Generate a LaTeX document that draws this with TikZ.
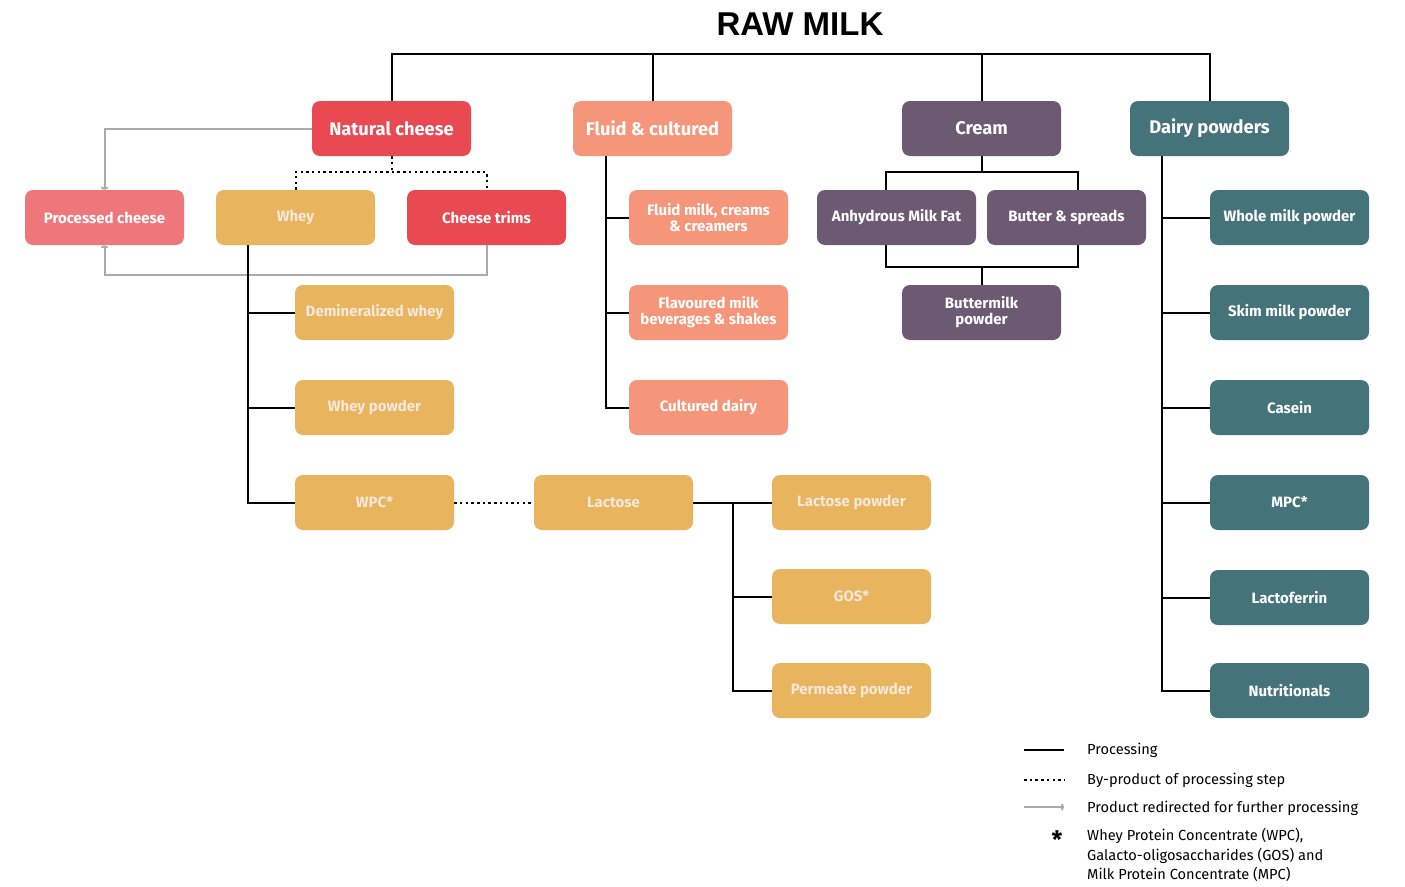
\documentclass[tikz,border=0pt]{standalone}
\usepackage{fontspec}
\setmainfont{Fira Sans}
\newfontfamily\titlefont{Liberation Sans}
\usetikzlibrary{arrows.meta,backgrounds}
\definecolor{natred}{HTML}{E94A52}
\definecolor{procpink}{HTML}{EF767B}
\definecolor{wheyc}{HTML}{E8B45E}
\definecolor{wtext}{HTML}{F3E8D9}
\definecolor{salmon}{HTML}{F5957A}
\definecolor{creamc}{HTML}{6C5A73}
\definecolor{tealc}{HTML}{44737A}
\definecolor{redirc}{HTML}{AAAAAA}
\tikzset{
  box/.style={rounded corners=8pt, minimum width=159pt, minimum height=55pt, align=center, inner sep=0pt, text=white},
  mainbox/.style={box, font=\bfseries\fontsize{18.3}{20}\selectfont},
  subbox/.style={box, font=\bfseries\fontsize{15}{16}\selectfont},
  proc/.style={draw=black, line width=2pt},
  byp/.style={draw=black, line width=2pt, dash pattern=on 2.5pt off 3.2pt},
  redir/.style={draw=redirc, line width=2pt, -{To[length=3pt,width=7pt]}},
  legtext/.style={font=\fontsize{14.6}{19.5}\selectfont, text=black, inner sep=0pt},
}
\begin{document}
\begin{tikzpicture}[x=1pt,y=-1pt]
\useasboundingbox (0,0) rectangle (1405,886);
% title
\node[font=\titlefont\bfseries\fontsize{33}{33}\selectfont, anchor=base, inner sep=0pt] (title) at (800,35) {RAW MILK};
% main boxes
\node[mainbox, fill=natred] (nc) at (391.5,128.5) {Natural cheese};
\node[mainbox, fill=salmon] (fc) at (652.5,128.5) {Fluid \& cultured};
\node[mainbox, fill=creamc] (cr) at (981.5,128.5) {Cream};
\node[mainbox, fill=tealc] (dp) at (1209.5,128.5) {Dairy powders};
% row 2
\node[subbox, fill=procpink] (pc) at (104.5,217.5) {Processed cheese};
\node[subbox, fill=wheyc, text=wtext] (wh) at (295.5,217.5) {Whey};
\node[subbox, fill=natred] (ct) at (486.5,217.5) {Cheese trims};
\node[subbox, fill=salmon] (fm) at (708.5,217.5) {Fluid milk, creams\\\& creamers};
\node[subbox, fill=creamc] (amf) at (896.5,217.5) {Anhydrous Milk Fat};
\node[subbox, fill=creamc] (bs) at (1066.5,217.5) {Butter \& spreads};
\node[subbox, fill=tealc] (wmp) at (1289.5,217.5) {Whole milk powder};
% row 3
\node[subbox, fill=wheyc, text=wtext] (dw) at (374.5,312.5) {Demineralized whey};
\node[subbox, fill=salmon] (fl) at (708.5,312.5) {Flavoured milk\\beverages \& shakes};
\node[subbox, fill=creamc] (bmp) at (981.5,312.5) {Buttermilk\\powder};
\node[subbox, fill=tealc] (smp) at (1289.5,312.5) {Skim milk powder};
% row 4
\node[subbox, fill=wheyc, text=wtext] (wp) at (374.5,407.5) {Whey powder};
\node[subbox, fill=salmon] (cd) at (708.5,407.5) {Cultured dairy};
\node[subbox, fill=tealc] (cas) at (1289.5,407.5) {Casein};
% row 5
\node[subbox, fill=wheyc, text=wtext] (wpc) at (374.5,502.5) {WPC*};
\node[subbox, fill=wheyc, text=wtext] (lac) at (613.5,502.5) {Lactose};
\node[subbox, fill=wheyc, text=wtext] (lp) at (851.5,502.5) {Lactose powder};
\node[subbox, fill=tealc] (mpc) at (1289.5,502.5) {MPC*};
% row 6
\node[subbox, fill=wheyc, text=wtext] (gos) at (851.5,596.5) {GOS*};
\node[subbox, fill=tealc] (lf) at (1289.5,597.5) {Lactoferrin};
% row 7
\node[subbox, fill=wheyc, text=wtext] (pp) at (851.5,690.5) {Permeate powder};
\node[subbox, fill=tealc] (nut) at (1289.5,690.5) {Nutritionals};
% coordinates
\coordinate (top) at (800,54);
\coordinate (ncd) at (391.5,172);
\coordinate (rb) at (104.5,275);
\coordinate (wt) at (248,245);
\coordinate (lt) at (733,502.5);
\coordinate (ft) at (606,156);
\coordinate (crd) at (981.5,172);
\coordinate (cTL) at (886,190);
\coordinate (cTR) at (1078,190);
\coordinate (cBL) at (886,245);
\coordinate (cBR) at (1078,245);
\coordinate (cbm) at (981.5,267);
\coordinate (dt) at (1162,156);
\begin{scope}[on background layer]
\fill[white] (0,0) rectangle (1405,886);
% raw milk bar
\draw[proc] (nc.north) |- (top) -| (dp.north);
\draw[proc] (fc.north) -- (fc.north |- top);
\draw[proc] (cr.north) -- (cr.north |- top);
% natural cheese
\draw[byp] (nc.south) -- (ncd);
\draw[byp] (wh.north) |- (ncd) -| (ct.north);
\draw[redir] (nc.west) -| (pc.north);
\draw[redir] (ct.south) |- (rb) -- (pc.south);
% whey
\draw[proc] (wt) |- (wpc.west);
\draw[proc] (wt |- dw.west) -- (dw.west);
\draw[proc] (wt |- wp.west) -- (wp.west);
\draw[byp] (wpc.east) -- (lac.west);
% lactose
\draw[proc] (lac.east) -- (lp.west);
\draw[proc] (lt) |- (pp.west);
\draw[proc] (lt |- gos.west) -- (gos.west);
% fluid
\draw[proc] (ft) |- (cd.west);
\draw[proc] (ft |- fm.west) -- (fm.west);
\draw[proc] (ft |- fl.west) -- (fl.west);
% cream
\draw[proc] (cr.south) -- (crd);
\draw[proc] (cTL) |- (crd) -| (cTR);
\draw[proc] (cBL) |- (cbm) -| (cBR);
\draw[proc] (cbm) -- (bmp.north);
% dairy powders
\draw[proc] (dt) |- (nut.west);
\draw[proc] (dt |- wmp.west) -- (wmp.west);
\draw[proc] (dt |- smp.west) -- (smp.west);
\draw[proc] (dt |- cas.west) -- (cas.west);
\draw[proc] (dt |- mpc.west) -- (mpc.west);
\draw[proc] (dt |- lf.west) -- (lf.west);
\end{scope}
% legend
\coordinate (l1a) at (1024,750); \coordinate (l1b) at (1064,750);
\coordinate (l2a) at (1024,780); \coordinate (l2b) at (1064,780);
\coordinate (l3a) at (1024,807); \coordinate (l3b) at (1064,807);
\draw[proc] (l1a) -- (l1b);
\draw[byp] (l2a) -- (l2b);
\draw[redir] (l3a) -- (l3b);
\node[legtext, anchor=west] (t1) at (1087,750) {Processing};
\node[legtext, anchor=west] (t2) at (1087,780) {By-product of processing step};
\node[legtext, anchor=west] (t3) at (1087,808) {Product redirected for further processing};
\node[font=\bfseries\fontsize{24}{24}\selectfont, inner sep=0pt] (star) at (1057,840) {*};
\node[legtext, anchor=north west, align=left] (t4) at (1087,828) {Whey Protein Concentrate (WPC),\\Galacto-oligosaccharides (GOS) and\\Milk Protein Concentrate (MPC)};
\end{tikzpicture}
\end{document}
